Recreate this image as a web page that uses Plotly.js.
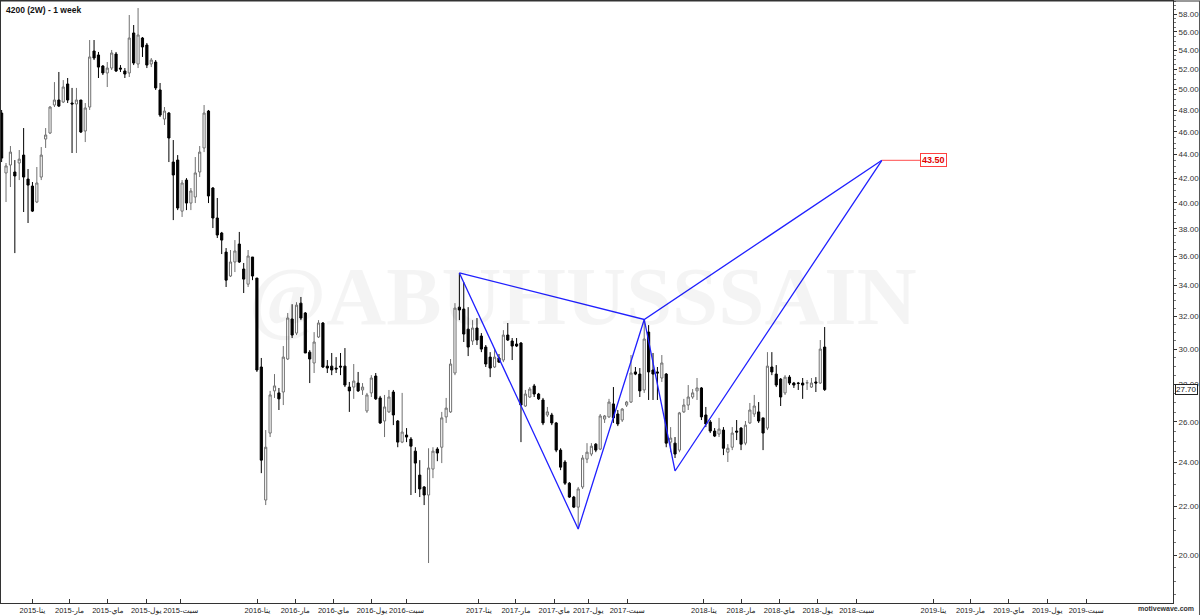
<!DOCTYPE html>
<html>
<head>
<meta charset="utf-8">
<script src="https://cdn.plot.ly/plotly-3.0.1.min.js"></script>
<style>
html,body{margin:0;padding:0;background:#ffffff;}
#chart{width:1200px;height:615px;}
</style>
</head>
<body>
<div id="chart"></div>
<script>
// ---- data ----
const firstWeek = '2014-11-13';
const holidayWeeks = ['2015-07-16','2016-07-07','2016-09-15','2017-06-29'];

const opens = [47.74,42.43,43.10,42.51,43.27,43.95,41.92,41.35,40.07,42.09,45.36,45.90,48.50,48.98,48.79,50.55,48.69,48.60,48.98,46.08,
48.31,53.94,53.52,52.37,51.66,52.16,53.62,52.16,51.86,51.66,55.89,52.58,55.34,54.58,52.58,52.78,49.96,47.18,47.74,43.35,
43.52,39.36,41.84,39.99,40.47,42.51,44.57,47.93,41.19,38.83,37.70,36.31,34.64,35.61,36.89,35.12,34.09,35.96,34.50,28.96,
22.29,25.43,27.63,27.52,27.57,29.42,31.83,30.96,32.84,32.21,29.82,29.19,30.72,31.58,29.01,29.01,28.90,29.01,29.01,27.84,
27.84,28.06,27.68,26.56,27.52,28.45,27.25,26.04,26.51,27.57,26.04,24.98,25.33,25.13,24.54,23.41,22.87,22.51,23.69,24.64,
24.73,26.25,26.51,28.62,32.58,32.46,31.20,30.48,31.27,30.78,30.12,29.53,28.96,29.48,29.36,30.84,30.48,30.30,30.36,26.82,
27.30,27.90,27.46,27.14,26.35,26.35,25.94,24.59,24.02,23.04,22.42,21.98,22.87,24.16,24.40,24.88,24.64,26.14,26.25,26.93,
26.40,26.09,26.87,27.03,28.68,28.56,27.68,31.02,28.79,28.68,28.34,28.56,24.98,24.93,24.59,26.51,26.87,27.30,27.63,27.79,
26.35,25.99,25.53,25.38,25.58,24.49,24.73,25.53,25.68,24.93,25.94,26.40,26.51,26.20,25.68,28.96,28.56,28.28,27.52,28.39,
28.06,28.06,28.06,28.06,27.84,28.12,28.06,30.12];

const highs = [48.03,43.27,44.74,43.52,44.39,46.35,42.76,41.68,42.93,44.65,46.35,48.40,50.74,51.76,50.94,51.15,50.16,50.16,48.98,48.69,
55.12,55.12,53.84,52.47,52.78,54.05,53.84,52.47,52.16,57.90,56.77,58.70,55.45,54.80,53.20,52.99,50.65,48.31,47.84,45.27,
43.95,41.84,42.00,41.19,43.78,44.74,48.50,48.03,41.27,40.39,37.78,36.60,36.46,37.18,37.78,35.54,36.46,35.96,34.50,29.48,
25.58,27.63,28.56,27.79,30.18,32.21,32.77,32.90,33.24,32.27,29.94,31.02,31.76,31.64,29.36,29.77,29.53,29.77,30.06,28.12,
29.13,28.68,28.06,27.52,28.50,28.62,27.36,27.41,27.68,27.68,26.09,27.52,25.68,25.23,24.73,24.11,22.91,24.68,24.73,24.73,
26.51,27.25,29.42,32.84,34.85,34.23,32.58,31.76,31.89,30.96,30.24,29.82,30.06,29.71,31.14,31.58,30.66,30.66,30.42,27.68,
27.84,28.01,27.52,27.25,26.77,26.46,25.99,24.68,24.11,23.09,22.47,22.87,24.35,24.93,24.93,24.93,26.40,26.35,27.20,27.84,
26.61,26.71,27.09,29.65,28.96,28.90,31.80,31.45,29.77,28.96,29.65,28.62,25.73,25.23,26.51,27.20,27.95,27.73,28.34,27.84,
26.77,26.09,25.68,26.20,25.73,24.88,25.73,26.09,25.73,26.04,26.98,27.41,27.03,26.20,29.82,29.82,29.07,28.34,28.50,28.50,
28.12,28.12,28.34,28.23,28.34,28.39,30.54,31.33];

const lows = [43.35,40.07,41.27,36.24,41.84,39.29,38.45,39.29,39.99,41.84,44.57,45.81,48.31,48.31,48.69,48.69,44.13,44.13,45.90,45.09,
48.03,52.99,51.15,51.45,50.25,51.96,51.76,51.76,51.15,51.25,52.47,52.16,53.31,52.16,52.26,49.96,47.37,46.63,43.35,38.67,
39.44,38.91,39.44,39.44,39.99,42.09,44.21,39.99,38.07,37.33,36.17,33.90,34.57,34.91,35.54,33.50,33.90,34.36,28.68,23.50,
22.07,25.23,27.25,26.61,26.87,29.36,30.66,30.84,31.76,29.77,28.06,28.62,30.66,28.90,28.62,28.50,28.62,28.50,27.84,26.51,
27.20,27.57,27.41,26.46,27.30,27.14,25.89,25.23,26.46,25.83,24.73,24.93,24.98,22.51,22.60,22.42,22.07,19.69,23.27,24.06,
23.97,25.94,26.46,28.50,31.76,30.42,29.59,30.24,30.24,29.82,28.96,28.39,28.90,29.19,29.24,30.48,29.36,30.12,24.98,26.77,
27.25,27.30,27.14,25.83,26.25,25.83,24.49,23.64,22.96,22.38,21.94,21.05,22.78,23.97,24.30,24.49,24.59,25.94,26.20,25.94,
25.78,25.99,26.77,26.98,28.50,27.30,27.52,27.14,27.14,27.14,28.12,24.73,24.49,24.21,24.49,26.46,26.61,27.20,27.14,26.09,
25.73,25.43,25.23,25.23,24.35,24.02,24.59,25.08,24.59,24.83,25.89,26.25,25.94,24.59,25.58,28.50,27.84,26.82,27.41,27.95,
27.79,27.68,27.20,27.68,27.79,27.57,28.01,27.63];

const closes = [43.69,43.02,44.21,42.18,43.60,42.09,41.43,39.36,41.60,43.95,45.72,48.31,48.98,48.40,50.25,48.98,48.60,48.98,45.99,48.22,
53.31,53.20,52.26,51.66,52.16,53.73,51.86,52.06,51.55,55.34,52.68,55.67,54.37,52.47,52.99,50.16,47.55,47.93,45.45,42.26,
39.60,41.60,39.99,40.95,42.43,44.21,47.74,40.55,38.83,37.55,37.18,34.36,35.61,36.39,35.61,34.43,36.03,34.64,28.79,24.11,
24.73,27.41,27.90,27.20,29.53,31.89,30.84,32.71,31.89,29.77,29.42,30.42,31.58,28.96,28.90,28.79,28.85,28.96,27.95,27.63,
28.17,27.63,27.84,27.41,28.34,27.20,25.94,26.77,27.30,26.35,24.98,25.48,25.23,24.78,23.97,22.78,22.51,23.74,24.54,24.45,
26.20,26.71,29.13,32.52,32.40,30.90,30.12,31.27,30.54,30.00,29.13,28.90,29.53,29.24,30.84,30.54,30.18,30.18,26.87,27.46,
27.73,27.46,27.20,25.94,26.51,25.94,24.59,23.78,23.04,22.42,21.98,22.78,24.21,24.49,24.78,24.59,26.30,26.30,27.03,26.20,
25.89,26.66,27.03,28.62,28.56,27.63,30.60,28.68,28.56,28.62,29.19,24.93,25.18,24.40,26.46,26.87,27.30,27.52,27.79,26.25,
25.89,25.53,25.28,25.63,24.68,24.68,25.43,25.48,24.88,25.83,26.61,26.82,26.04,25.43,29.01,28.68,27.95,27.30,28.39,28.06,
27.95,28.04,27.95,28.08,28.06,28.06,30.00,27.70];

// harmonic pattern points X, A, B, C, D
const patternDates  = ['2016-12-01','2017-06-08','2017-09-28','2017-11-16','2018-10-11'];
const patternPrices = [34.85, 21.05, 31.80, 23.60, 43.50];
const targetPrice = 43.50;
const targetEnd = '2018-12-11';
const lastPrice = 27.70;

// axis ticks
const tickDates = ['2015-01-01','2015-03-01','2015-05-01','2015-07-01','2015-09-01',
  '2016-01-01','2016-03-01','2016-05-01','2016-07-01','2016-09-01',
  '2017-01-01','2017-03-01','2017-05-01','2017-07-01','2017-09-01',
  '2018-01-01','2018-03-01','2018-05-01','2018-07-01','2018-09-01',
  '2019-01-01','2019-03-01','2019-05-01','2019-07-01','2019-09-01'];
const tickLabels = ['2015-ينا','2015-مار','2015-ماي','2015-يول','2015-سبت',
  '2016-ينا','2016-مار','2016-ماي','2016-يول','2016-سبت',
  '2017-ينا','2017-مار','2017-ماي','2017-يول','2017-سبت',
  '2018-ينا','2018-مار','2018-ماي','2018-يول','2018-سبت',
  '2019-ينا','2019-مار','2019-ماي','2019-يول','2019-سبت'];
const priceTicks = [20,22,24,26,28,30,32,34,36,38,40,42,44,46,48,50,52,54,56,58];

// ---- helpers ----
const DAY = 86400000;
function fmt(ms){ return new Date(ms).toISOString().slice(0,10); }
function parse(s){ return Date.parse(s + 'T00:00:00Z'); }
const holidayMs = holidayWeeks.map(parse);
const barDates = [];
let t = parse(firstWeek);
while (barDates.length < opens.length) {
  if (!holidayMs.includes(t)) barDates.push(fmt(t));
  t += 7 * DAY;
}
const breakStarts = holidayMs.map(ms => new Date(ms - 5.5 * DAY).toISOString().replace('T',' ').slice(0,19));

const traces = [
  {
    type: 'candlestick', x: barDates, open: opens, high: highs, low: lows, close: closes,
    increasing: {line: {color: '#707070', width: 1}, fillcolor: '#ffffff'},
    decreasing: {line: {color: '#000000', width: 1}, fillcolor: '#000000'},
    whiskerwidth: 0, hoverinfo: 'skip', showlegend: false
  },
  {
    type: 'scatter', mode: 'lines', x: patternDates, y: patternPrices,
    line: {color: '#2020ff', width: 1.3}, hoverinfo: 'skip', showlegend: false
  },
  {
    type: 'scatter', mode: 'lines',
    x: [patternDates[0], patternDates[2], patternDates[4]],
    y: [patternPrices[0], patternPrices[2], patternPrices[4]],
    line: {color: '#2020ff', width: 1.3}, hoverinfo: 'skip', showlegend: false
  },
  {
    type: 'scatter', mode: 'lines',
    x: [patternDates[4], targetEnd], y: [targetPrice, targetPrice],
    line: {color: '#ff7070', width: 1.3}, hoverinfo: 'skip', showlegend: false
  }
];

const layout = {
  width: 1200, height: 615,
  margin: {l: 1, r: 27, t: 1, b: 12},
  paper_bgcolor: '#ffffff', plot_bgcolor: '#ffffff',
  showlegend: false,
  xaxis: {
    type: 'date',
    range: ['2014-11-12', '2020-01-17'],
    rangebreaks: [{values: breakStarts, dvalue: 7 * DAY}],
    rangeslider: {visible: false},
    tickmode: 'array', tickvals: tickDates, ticktext: tickLabels,
    tickangle: 0,
    ticks: 'inside', ticklen: 4, tickcolor: '#333333',
    showline: true, linecolor: '#333333', linewidth: 1, mirror: true,
    showgrid: false, zeroline: false,
    tickfont: {family: 'Liberation Sans, DejaVu Sans, sans-serif', size: 7.5, color: '#222222'},
    fixedrange: true
  },
  yaxis: {
    type: 'log', side: 'right',
    range: [Math.log10(18.20), Math.log10(59.52)],
    tickmode: 'array', tickvals: priceTicks, ticktext: priceTicks.map(v => v.toFixed(2)),
    ticks: 'outside', ticklen: 3, tickcolor: '#333333',
    minor: {dtick: 'L0.5', ticks: 'outside', ticklen: 2, tickcolor: '#777777', showgrid: false},
    showline: true, linecolor: '#333333', linewidth: 1, mirror: true,
    showgrid: false, zeroline: false,
    tickfont: {family: 'Liberation Sans, sans-serif', size: 8, color: '#333333'},
    fixedrange: true
  },
  annotations: [
    {
      text: '@ABUHUSSSAIN', xref: 'paper', yref: 'paper', x: 0.497, y: 0.51,
      xanchor: 'center', yanchor: 'middle', showarrow: false,
      font: {family: 'Liberation Serif, serif', size: 83, color: 'rgba(0,0,0,0.045)', weight: 'bold'}
    },
    {
      text: '<b>4200 (2W) - 1 week</b>', xref: 'paper', yref: 'paper', x: 0, y: 1,
      xanchor: 'left', yanchor: 'top', xshift: 3, yshift: -2, showarrow: false,
      font: {family: 'Liberation Sans, sans-serif', size: 8.5, color: '#111111'}
    },
    {
      text: '<b>' + targetPrice.toFixed(2) + '</b>', x: targetEnd, y: Math.log10(targetPrice),
      xref: 'x', yref: 'y', xanchor: 'left', yanchor: 'middle', showarrow: false,
      bgcolor: '#ffffff', bordercolor: '#ff4040', borderwidth: 1, borderpad: 1,
      font: {family: 'Liberation Sans, sans-serif', size: 9, color: '#e00000'}
    },
    {
      text: lastPrice.toFixed(2), xref: 'paper', yref: 'y', x: 1, y: Math.log10(lastPrice),
      xanchor: 'left', yanchor: 'middle', xshift: 2, showarrow: false,
      bgcolor: '#ffffff', bordercolor: '#222222', borderwidth: 1, borderpad: 0,
      font: {family: 'Liberation Sans, sans-serif', size: 8, color: '#111111'}
    },
    {
      text: '<b>motivewave.com</b>', xref: 'paper', yref: 'paper', x: 1.0196, y: -0.009,
      xanchor: 'right', yanchor: 'middle', showarrow: false,
      font: {family: 'Liberation Sans, sans-serif', size: 7, color: '#333333'}
    }
  ],
  shapes: [
    {type: 'line', xref: 'paper', yref: 'paper', x0: 0, x1: 1.0232, y0: 1, y1: 1, line: {color: '#333333', width: 1}},
    {type: 'line', xref: 'paper', yref: 'paper', x0: 1.0226, x1: 1.0226, y0: -0.03, y1: 1, line: {color: '#555555', width: 1}}
  ]
};

Plotly.newPlot('chart', traces, layout, {displayModeBar: false, staticPlot: true});
</script>
</body>
</html>
